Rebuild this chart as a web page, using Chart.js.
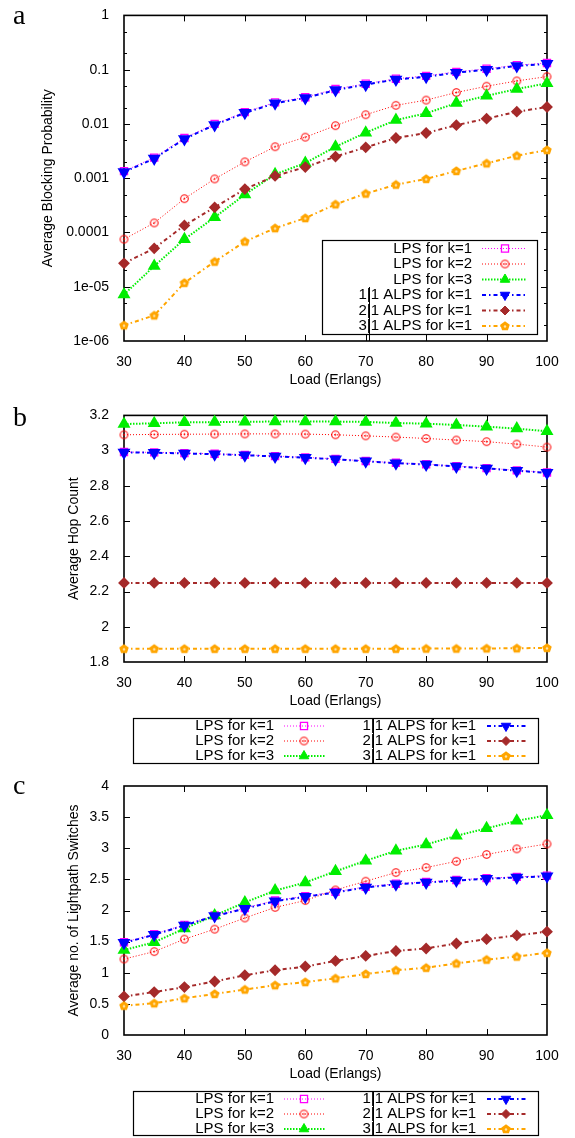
<!DOCTYPE html>
<html>
<head>
<meta charset="utf-8">
<script src="https://cdn.jsdelivr.net/npm/chart.js@4.4.0/dist/chart.umd.min.js"></script>
<style>
html, body { margin: 0; padding: 0; background: #fff; }
body { width: 575px; height: 1138px; position: relative; overflow: hidden; }
canvas { position: absolute; left: 0; }
</style>
</head>
<body>
<canvas id="chartA" width="575" height="400" style="top:0px"></canvas>
<canvas id="chartB" width="575" height="370" style="top:400px"></canvas>
<canvas id="chartC" width="575" height="368" style="top:770px"></canvas>
<script>
const loads = [30, 35, 40, 45, 50, 55, 60, 65, 70, 75, 80, 85, 90, 95, 100];
const loadTicks = [30, 40, 50, 60, 70, 80, 90, 100];
const seriesNames = ['LPS for k=1', 'LPS for k=2', 'LPS for k=3', '1|1 ALPS for k=1', '2|1 ALPS for k=1', '3|1 ALPS for k=1'];

// a) average blocking probability
const blockLps1 = [0.00135, 0.0024, 0.0055, 0.0100, 0.0165, 0.025, 0.031, 0.044, 0.055, 0.068, 0.077, 0.091, 0.104, 0.121, 0.133];
const blockLps2 = [7.5e-5, 1.5e-4, 4.2e-4, 0.00097, 0.0020, 0.0038, 0.0057, 0.0093, 0.0148, 0.022, 0.0275, 0.038, 0.0495, 0.062, 0.0745];
const blockLps3 = [7.2e-6, 2.4e-5, 7.5e-5, 1.9e-4, 5.0e-4, 0.00118, 0.0019, 0.0038, 0.0069, 0.0118, 0.0157, 0.0242, 0.033, 0.044, 0.056];
const blockAlps11 = [0.0013, 0.0023, 0.0053, 0.0096, 0.016, 0.024, 0.030, 0.042, 0.053, 0.066, 0.074, 0.088, 0.100, 0.117, 0.128];
const blockAlps21 = [2.7e-5, 5.1e-5, 1.35e-4, 2.9e-4, 6.3e-4, 0.0011, 0.0016, 0.0025, 0.0037, 0.0055, 0.0068, 0.0095, 0.0125, 0.0168, 0.0205];
const blockAlps31 = [1.95e-6, 2.96e-6, 1.18e-5, 2.9e-5, 6.8e-5, 1.2e-4, 1.84e-4, 3.3e-4, 5.2e-4, 7.6e-4, 0.00097, 0.00136, 0.00188, 0.0026, 0.0033];
const blockTicks = [1e-6, 1e-5, 1e-4, 1e-3, 0.01, 0.1, 1];
const blockTickLabels = ['1e-06', '1e-05', '0.0001', '0.001', '0.01', '0.1', '1'];

// b) average hop count
const hopLps1 = [2.992, 2.990, 2.986, 2.982, 2.976, 2.969, 2.962, 2.953, 2.941, 2.931, 2.923, 2.912, 2.901, 2.888, 2.876];
const hopLps2 = [3.090, 3.092, 3.093, 3.094, 3.095, 3.095, 3.094, 3.090, 3.084, 3.077, 3.069, 3.060, 3.051, 3.037, 3.020];
const hopLps3 = [3.151, 3.155, 3.161, 3.162, 3.164, 3.165, 3.165, 3.165, 3.163, 3.157, 3.153, 3.146, 3.136, 3.125, 3.110];
const hopAlps11 = [2.990, 2.988, 2.984, 2.980, 2.974, 2.967, 2.960, 2.951, 2.939, 2.929, 2.921, 2.910, 2.899, 2.886, 2.874];
const hopAlps21 = [2.249, 2.249, 2.249, 2.249, 2.249, 2.249, 2.249, 2.249, 2.249, 2.249, 2.249, 2.249, 2.249, 2.249, 2.249];
const hopAlps31 = [1.875, 1.875, 1.875, 1.875, 1.875, 1.875, 1.875, 1.875, 1.875, 1.875, 1.876, 1.876, 1.877, 1.878, 1.880];
const hopTicks = [1.8, 2, 2.2, 2.4, 2.6, 2.8, 3, 3.2];
const hopTickLabels = ['1.8', '2', '2.2', '2.4', '2.6', '2.8', '3', '3.2'];

// c) average number of lightpath switches
const swLps1 = [1.49, 1.62, 1.77, 1.92, 2.04, 2.16, 2.23, 2.30, 2.38, 2.43, 2.46, 2.49, 2.52, 2.54, 2.56];
const swLps2 = [1.22, 1.34, 1.54, 1.70, 1.88, 2.05, 2.16, 2.33, 2.47, 2.61, 2.69, 2.79, 2.90, 2.99, 3.07];
const swLps3 = [1.365, 1.49, 1.71, 1.92, 2.13, 2.32, 2.45, 2.63, 2.80, 2.96, 3.06, 3.20, 3.32, 3.44, 3.53];
const swAlps11 = [1.48, 1.61, 1.76, 1.91, 2.03, 2.15, 2.22, 2.29, 2.37, 2.42, 2.45, 2.48, 2.51, 2.53, 2.55];
const swAlps21 = [0.62, 0.69, 0.77, 0.86, 0.96, 1.04, 1.10, 1.19, 1.27, 1.35, 1.39, 1.47, 1.54, 1.60, 1.66];
const swAlps31 = [0.47, 0.51, 0.59, 0.66, 0.73, 0.80, 0.85, 0.91, 0.98, 1.04, 1.08, 1.15, 1.21, 1.26, 1.32];
const swTicks = [0, 0.5, 1, 1.5, 2, 2.5, 3, 3.5, 4];
const swTickLabels = ['0', '0.5', '1', '1.5', '2', '2.5', '3', '3.5', '4'];

const SANS = "'Liberation Sans', Arial, sans-serif";
const SERIF = "'Liberation Serif', 'Times New Roman', serif";

// marker images for the shapes chart.js has no built-in style for
function circleDot() {
  const c = document.createElement('canvas');
  c.width = 11; c.height = 11;
  const g = c.getContext('2d');
  g.strokeStyle = '#ff0000'; g.lineWidth = 1.1;
  g.beginPath(); g.arc(5.5, 5.5, 3.8, 0, Math.PI * 2); g.stroke();
  g.fillStyle = '#ff0000';
  g.beginPath(); g.arc(5.5, 5.5, 0.9, 0, Math.PI * 2); g.fill();
  return c;
}
function pentagon() {
  const c = document.createElement('canvas');
  c.width = 12; c.height = 12;
  const g = c.getContext('2d');
  g.fillStyle = '#ffa500';
  g.beginPath();
  for (let k = 0; k < 5; k++) {
    const a = -Math.PI / 2 + k * 2 * Math.PI / 5;
    const px = 6 + 5 * Math.cos(a), py = 6.3 + 5 * Math.sin(a);
    if (k === 0) g.moveTo(px, py); else g.lineTo(px, py);
  }
  g.closePath(); g.fill();
  g.fillStyle = '#ffe3a8';
  g.beginPath(); g.arc(6, 6.5, 1.2, 0, Math.PI * 2); g.fill();
  return c;
}
const circleImg = circleDot();
const pentaImg = pentagon();

const dashDot = [4, 3, 1.5, 3];
const styles = [
  { borderColor: '#ff00ff', borderWidth: 1, borderDash: [1, 2], pointStyle: 'rect', pointRadius: 5, pointBorderColor: '#ff00ff', pointBackgroundColor: 'rgba(0,0,0,0)', pointBorderWidth: 1.3 },
  { borderColor: '#ff0000', borderWidth: 1, borderDash: [1, 2], pointStyle: circleImg, pointRadius: 5 },
  { borderColor: '#00ee00', borderWidth: 2, borderDash: [1.5, 1.5], pointStyle: 'triangle', pointRadius: 5.5, pointBorderColor: '#00ee00', pointBackgroundColor: '#00ee00' },
  { borderColor: '#0000ff', borderWidth: 2, borderDash: dashDot, pointStyle: 'triangle', pointRotation: 180, pointRadius: 5.5, pointBorderColor: '#0000ff', pointBackgroundColor: '#0000ff' },
  { borderColor: '#a52a2a', borderWidth: 2, borderDash: dashDot, pointStyle: 'rectRot', pointRadius: 4.5, pointBorderColor: '#a52a2a', pointBackgroundColor: '#a52a2a' },
  { borderColor: '#ffa500', borderWidth: 2, borderDash: dashDot, pointStyle: pentaImg, pointRadius: 5 }
];

function drawMarker(ctx, ds, x, y) {
  const st = ds.pointStyle, r = ds.pointRadius;
  ctx.save();
  ctx.setLineDash([]);
  if (typeof st !== 'string') {
    ctx.drawImage(st, x - st.width / 2, y - st.height / 2);
    ctx.restore();
    return;
  }
  ctx.fillStyle = ds.pointBackgroundColor;
  ctx.strokeStyle = ds.pointBorderColor;
  ctx.lineWidth = ds.pointBorderWidth || 1;
  ctx.beginPath();
  if (st === 'rect') {
    const s = r * Math.SQRT1_2;
    ctx.rect(x - s, y - s, 2 * s, 2 * s);
  } else if (st === 'rectRot') {
    ctx.moveTo(x, y - r); ctx.lineTo(x + r, y); ctx.lineTo(x, y + r); ctx.lineTo(x - r, y);
    ctx.closePath();
  } else if (st === 'triangle') {
    const d = ds.pointRotation ? -1 : 1;
    ctx.moveTo(x, y - d * r);
    ctx.lineTo(x + r * 0.866, y + d * r * 0.5);
    ctx.lineTo(x - r * 0.866, y + d * r * 0.5);
    ctx.closePath();
  }
  ctx.fill();
  ctx.stroke();
  ctx.restore();
}

const framePlugin = {
  id: 'frame',
  beforeDatasetsDraw(chart, args, o) {
    const ctx = chart.ctx, a = chart.chartArea;
    const xs = chart.scales.x, ys = chart.scales.y;
    ctx.save();
    ctx.strokeStyle = '#000';
    ctx.lineWidth = 1;
    ctx.beginPath();
    loadTicks.slice(1, -1).forEach(v => {
      const px = Math.round(xs.getPixelForValue(v)) + 0.5;
      ctx.moveTo(px, a.bottom); ctx.lineTo(px, a.bottom - 6);
      ctx.moveTo(px, a.top); ctx.lineTo(px, a.top + 6);
    });
    o.yTicks.slice(1, -1).forEach(v => {
      const py = Math.round(ys.getPixelForValue(v)) + 0.5;
      ctx.moveTo(a.left, py); ctx.lineTo(a.left + 6, py);
      ctx.moveTo(a.right, py); ctx.lineTo(a.right - 6, py);
    });
    (o.yMinor || []).forEach(v => {
      const py = Math.round(ys.getPixelForValue(v)) + 0.5;
      ctx.moveTo(a.left, py); ctx.lineTo(a.left + 3, py);
      ctx.moveTo(a.right, py); ctx.lineTo(a.right - 3, py);
    });
    ctx.stroke();
    ctx.lineWidth = 1.6;
    ctx.strokeRect(a.left, a.top, a.right - a.left, a.bottom - a.top);
    ctx.restore();
  },
  afterDraw(chart, args, o) {
    const ctx = chart.ctx, a = chart.chartArea;
    ctx.save();
    ctx.fillStyle = '#000';
    // panel letter
    ctx.font = '28px ' + SERIF;
    ctx.textAlign = 'left';
    ctx.textBaseline = 'alphabetic';
    ctx.fillText(o.letter, 13, o.letterY);
    // axis titles
    ctx.font = '14px ' + SANS;
    ctx.textAlign = 'center';
    ctx.textBaseline = 'middle';
    ctx.fillText('Load (Erlangs)', (a.left + a.right) / 2, a.bottom + 39);
    ctx.save();
    ctx.translate(o.yTitleX, (a.top + a.bottom) / 2);
    ctx.rotate(-Math.PI / 2);
    ctx.fillText(o.yTitle, 0, 0);
    ctx.restore();
    // legend
    const L = o.legend;
    ctx.lineWidth = 1.2;
    ctx.strokeStyle = '#000';
    ctx.strokeRect(L.box[0] + 0.5, L.box[1] + 0.5, L.box[2] - L.box[0], L.box[3] - L.box[1]);
    ctx.font = '15px ' + SANS;
    ctx.textAlign = 'right';
    let barX = null;
    L.items.forEach(it => {
      const ds = chart.data.datasets[it.i];
      ctx.fillStyle = '#000';
      ctx.fillText(ds.label, it.tx, it.y);
      if (it.i === 3) {
        const w = ctx.measureText(ds.label.slice(1)).width;
        barX = Math.round(it.tx - w + ctx.measureText('|').width / 2) + 0.5;
      }
      ctx.save();
      ctx.strokeStyle = ds.borderColor;
      ctx.lineWidth = ds.borderWidth;
      ctx.setLineDash(ds.borderDash);
      ctx.beginPath();
      ctx.moveTo(it.l1, it.y); ctx.lineTo(it.l2, it.y);
      ctx.stroke();
      ctx.restore();
      drawMarker(ctx, ds, it.m, it.y);
    });
    if (barX !== null) {
      ctx.strokeStyle = '#000';
      ctx.lineWidth = 1;
      ctx.setLineDash([]);
      ctx.beginPath();
      ctx.moveTo(barX, L.bar[0]); ctx.lineTo(barX, L.bar[1]);
      ctx.stroke();
    }
    ctx.restore();
  }
};

function makeChart(id, cfg) {
  const el = document.getElementById(id);
  return new Chart(el, {
    type: 'line',
    data: {
      datasets: cfg.series.map((vals, i) => Object.assign({
        label: seriesNames[i],
        data: loads.map((x, j) => ({ x: x, y: vals[j] })),
        fill: false,
        tension: 0,
        clip: false,
        order: 5 - i
      }, styles[i]))
    },
    options: {
      responsive: false,
      animation: false,
      devicePixelRatio: 1,
      layout: { padding: { top: cfg.top, right: 28, left: 0, bottom: 0 } },
      plugins: {
        legend: { display: false },
        tooltip: { enabled: false },
        frame: cfg.frame
      },
      scales: {
        x: {
          type: 'linear', min: 30, max: 100,
          grid: { display: false }, border: { display: false },
          ticks: { color: '#000', font: { family: SANS, size: 14 }, padding: 5, maxRotation: 0, callback: v => String(v) },
          afterBuildTicks: s => { s.ticks = loadTicks.map(v => ({ value: v })); },
          afterFit: s => { s.height = el.height - cfg.bottom; }
        },
        y: {
          type: cfg.log ? 'logarithmic' : 'linear',
          min: cfg.yTicks[0], max: cfg.yTicks[cfg.yTicks.length - 1],
          grid: { display: false }, border: { display: false },
          ticks: { color: '#000', font: { family: SANS, size: 14 }, padding: 7, callback: (v, i) => cfg.yLabels[i] },
          afterBuildTicks: s => { s.ticks = cfg.yTicks.map(v => ({ value: v })); },
          afterFit: s => { s.width = 124; }
        }
      }
    },
    plugins: [framePlugin]
  });
}

function legendRows(y0, step, twoCol) {
  if (!twoCol) {
    return [0, 1, 2, 3, 4, 5].map(i => ({ i: i, tx: 472, l1: 482, l2: 527, m: 505, y: y0 + i * step }));
  }
  return [0, 1, 2, 3, 4, 5].map(i => {
    const c = i < 3 ? 0 : 1, r = i % 3;
    return c === 0
      ? { i: i, tx: 274, l1: 284, l2: 326, m: 304, y: y0 + r * step }
      : { i: i, tx: 476, l1: 487, l2: 527, m: 506, y: y0 + r * step };
  });
}

const blockMinor = [];
blockTicks.slice(0, -1).forEach(d => { blockMinor.push(d * 2, d * 5); });

makeChart('chartA', {
  series: [blockLps1, blockLps2, blockLps3, blockAlps11, blockAlps21, blockAlps31],
  log: true, yTicks: blockTicks, yLabels: blockTickLabels, top: 14, bottom: 341,
  frame: {
    yTicks: blockTicks, yMinor: blockMinor, letter: 'a', letterY: 24,
    yTitle: 'Average Blocking Probability', yTitleX: 48,
    legend: { box: [322, 240, 537, 334], items: legendRows(248.5, 15.5, false), bar: [287, 341] }
  }
});

makeChart('chartB', {
  series: [hopLps1, hopLps2, hopLps3, hopAlps11, hopAlps21, hopAlps31],
  log: false, yTicks: hopTicks, yLabels: hopTickLabels, top: 14, bottom: 262,
  frame: {
    yTicks: hopTicks, letter: 'b', letterY: 26,
    yTitle: 'Average Hop Count', yTitleX: 74,
    legend: { box: [133, 318, 538, 363], items: legendRows(326, 15, true), bar: [318, 363] }
  }
});

makeChart('chartC', {
  series: [swLps1, swLps2, swLps3, swAlps11, swAlps21, swAlps31],
  log: false, yTicks: swTicks, yLabels: swTickLabels, top: 16, bottom: 265,
  frame: {
    yTicks: swTicks, letter: 'c', letterY: 24,
    yTitle: 'Average no. of Lightpath Switches', yTitleX: 74,
    legend: { box: [133, 321, 538, 365], items: legendRows(329, 15, true), bar: [321, 365] }
  }
});
</script>
</body>
</html>
